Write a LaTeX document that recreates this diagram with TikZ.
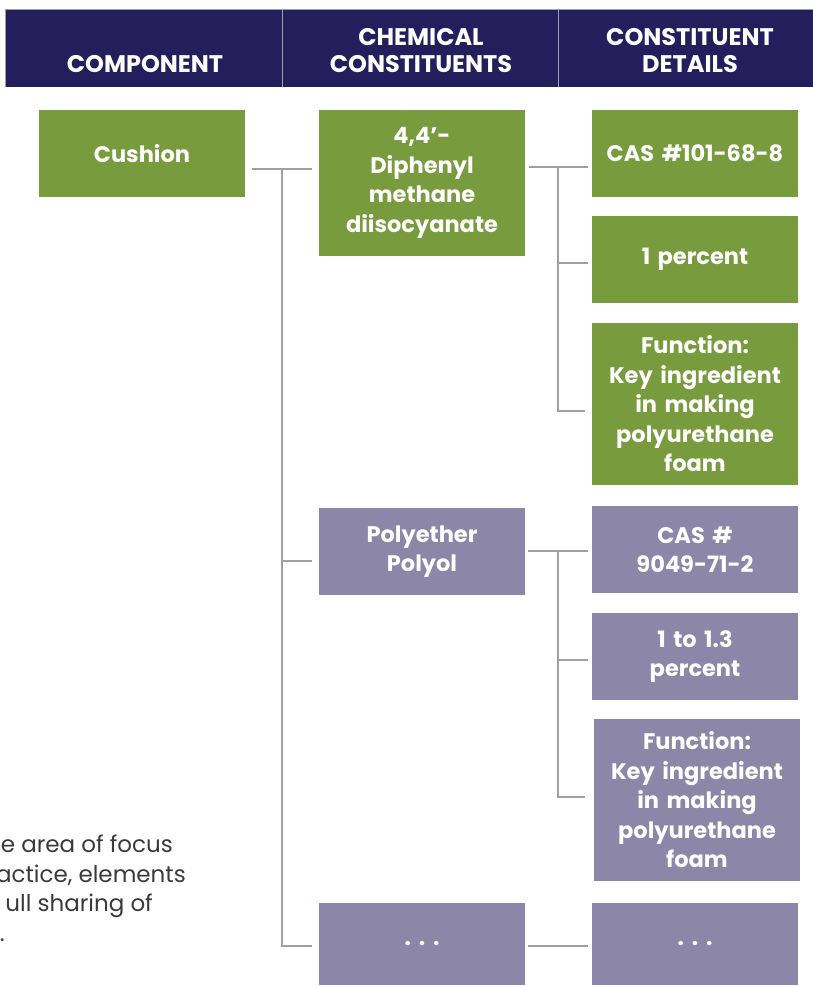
\documentclass[tikz,border=0pt]{standalone}
\usepackage{fontspec}
\setmainfont{Poppins}
\usetikzlibrary{calc}
\definecolor{navy}{HTML}{241F5C}
\definecolor{leaf}{HTML}{789B3E}
\definecolor{lilac}{HTML}{8C86A8}
\definecolor{rule}{HTML}{A0A0A0}
\definecolor{bodytext}{HTML}{3A3A3A}
\tikzset{
  box/.style={rectangle, inner sep=0pt, minimum width=206pt, text width=200pt, align=center,
    text=white, font=\fontsize{22.5}{29.5}\selectfont\bfseries},
  gbox/.style={box, fill=leaf},
  pbox/.style={box, fill=lilac},
  conn/.style={draw=rule, line width=1.2pt},
  head/.style={text=white, align=center, font=\fontsize{24}{27}\selectfont\bfseries},
  note/.style={text=bodytext, anchor=base east, inner sep=0pt, font=\fontsize{23}{29.5}\selectfont},
}
\begin{document}
\begin{tikzpicture}[x=1pt,y=-1pt]
\useasboundingbox (0,0) rectangle (813,986);
\clip (0,0) rectangle (813,986);
% header
\fill[navy] (5,10) rectangle (813,87);
\draw[rule, line width=1pt] (5,87) -- (5,9.5) -- (813,9.5);
\draw[rule, line width=1pt] (282,10) -- (282,87);
\draw[rule, line width=1pt] (558,10) -- (558,87);
\node[head] (h1) at (145,64) {COMPONENT};
\node[head] (h2) at (421,50.5) {CHEMICAL\\CONSTITUENTS};
\node[head] (h3) at (690,50.5) {CONSTITUENT\\DETAILS};
% boxes
\node[gbox, minimum height=87pt] (cush) at (142,153.5) {Cushion};
\node[gbox, minimum height=146pt] (mdi) at (422,183) {4,4’-\\Diphenyl\\methane\\diisocyanate};
\node[gbox, minimum height=87pt] (cas1) at (695,153.5) {CAS \#101-68-8};
\node[gbox, minimum height=87pt] (pct1) at (695,259.5) {1 percent};
\node[gbox, minimum height=162pt] (fn1) at (695,404) {Function:\\Key ingredient\\in making\\polyurethane\\foam};
\node[pbox, minimum height=87pt] (poly) at (422,551.5) {Polyether\\Polyol};
\node[pbox, minimum height=87pt] (cas2) at (695,549.5) {CAS \#\\9049-71-2};
\node[pbox, minimum height=87pt] (pct2) at (695,656.5) {1 to 1.3\\percent};
\node[pbox, minimum height=162pt] (fn2) at (697,800) {Function:\\Key ingredient\\in making\\polyurethane\\foam};
\node[pbox, minimum height=82pt] (dots1) at (422,944) {.\hspace{0.35em}.\hspace{0.35em}.};
\node[pbox, minimum height=82pt] (dots2) at (695,944) {.\hspace{0.35em}.\hspace{0.35em}.};
% connectors: component trunk
\coordinate (a0) at (252,169);
\coordinate (a1) at (282,169);
\coordinate (a2) at (282,561);
\coordinate (a3) at (282,946);
\draw[conn] (a0) -- ([xshift=-7pt]a0 -| mdi.west);
\draw[conn] (a1) -- (a3) -- ([xshift=-7pt]a3 -| dots1.west);
\draw[conn] (a2) -- ([xshift=-7pt]a2 -| poly.west);
% MDI branch
\coordinate (b0) at (529,167);
\coordinate (b1) at (558,167);
\coordinate (b2) at (558,263);
\coordinate (b3) at (558,411);
\draw[conn] (b0) -- ([xshift=-4pt]b0 -| cas1.west);
\draw[conn] (b1) -- (b3) -- ([xshift=-7pt]b3 -| fn1.west);
\draw[conn] (b2) -- ([xshift=-4pt]b2 -| pct1.west);
% Polyol branch
\coordinate (c0) at (528,551);
\coordinate (c1) at (558,551);
\coordinate (c2) at (558,660);
\coordinate (c3) at (558,797);
\draw[conn] (c0) -- ([xshift=-4pt]c0 -| cas2.west);
\draw[conn] (c1) -- (c3) -- ([xshift=-9pt]c3 -| fn2.west);
\draw[conn] (c2) -- ([xshift=-4pt]c2 -| pct2.west);
% dots link
\coordinate (d0) at (528,946);
\draw[conn] (d0) -- ([xshift=-4pt]d0 -| dots2.west);
% cut-off note
\node[note] (n1) at (173,852) {e area of focus};
\node[note] (n2) at (186,882) {actice, elements};
\node[note] (n3) at (153,911) {ull sharing of};
\node[note] (n4) at (5,941) {.};
\end{tikzpicture}
\end{document}
